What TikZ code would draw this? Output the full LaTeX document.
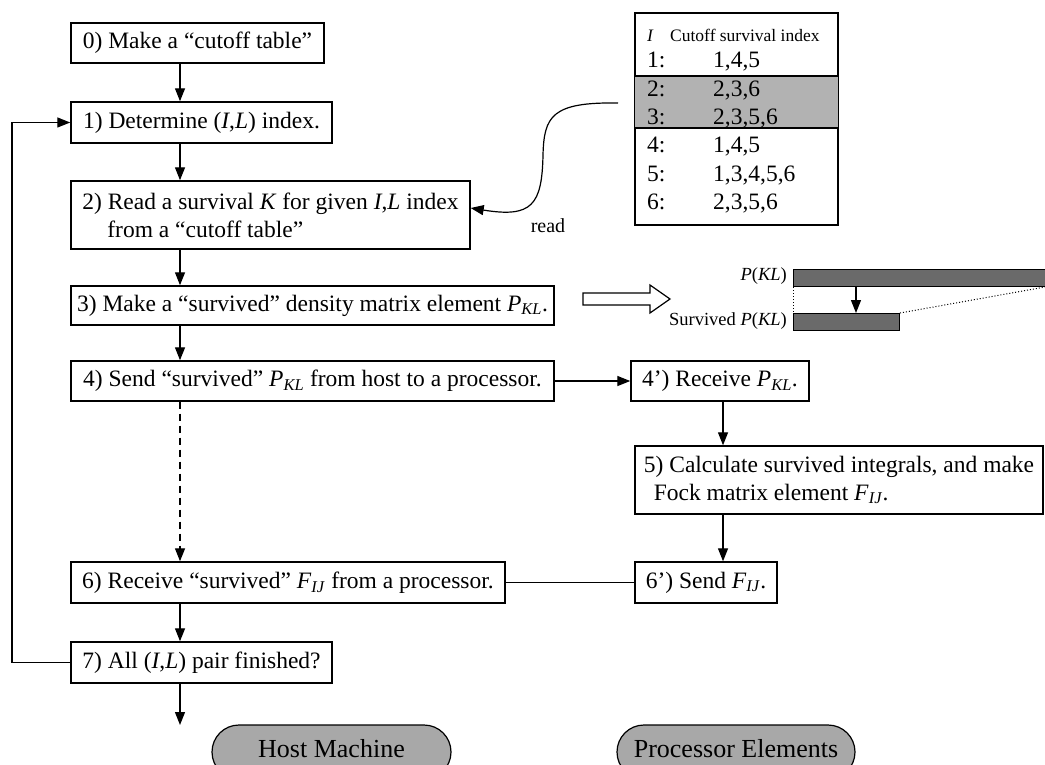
\documentclass[tikz,border=0pt]{standalone}
\usepackage{fontspec}
\setmainfont{Liberation Serif}
\usetikzlibrary{arrows.meta,calc}
\definecolor{bandgray}{HTML}{B2B2B2}
\definecolor{ovalgray}{HTML}{A8A8A8}
\definecolor{bargray}{HTML}{6A6A6A}
\newcommand{\mysub}[2]{\textit{#1}\textsubscript{\textit{#2}}}
\newcommand{\fmain}{\fontsize{23.5}{28}\selectfont}
\begin{document}
\begin{tikzpicture}[x=1pt,y=-1pt,
  stepbox/.style={draw, line width=1.4pt, inner sep=0pt, font=\fmain, align=left},
  ovalbox/.style={draw, line width=1.2pt, fill=ovalgray, rounded corners=27pt, inner sep=0pt, text height=18pt, text depth=7pt, font=\fontsize{26}{30}\selectfont},
  arr/.style={line width=1.3pt, -{Triangle[length=13pt,width=10pt]}},
  ln/.style={line width=1.5pt},
  bar/.style={draw, line width=1pt, fill=bargray, inner sep=0pt},
  tabtext/.style={anchor=base west, inner sep=0pt, font=\fmain},
  dotline/.style={line width=1pt, dotted}
]
\useasboundingbox (0,0) rectangle (1045,765);
\clip (0,0) rectangle (1045,765);

% host side boxes
\node[stepbox, minimum width=253, minimum height=40] (b0) at (197.5,43) {0) Make a “cutoff table”};
\node[stepbox, minimum width=261, minimum height=41] (b1) at (201.5,122.5) {1) Determine (\textit{I},\textit{L}) index.};
\node[stepbox, minimum width=399, minimum height=68] (b2) at (270.5,215) {2) Read a survival \textit{K} for given \textit{I},\textit{L} index\\\hspace*{25pt}from a “cutoff table”};
\node[stepbox, minimum width=483, minimum height=39] (b3) at (312.5,305.5) {3) Make a “survived” density matrix element \mysub{P}{KL}.};
\node[stepbox, minimum width=483, minimum height=40] (b4) at (312.5,381) {4) Send “survived” \mysub{P}{KL} from host to a processor.};
\node[stepbox, minimum width=434, minimum height=41] (b6) at (288,582.5) {6) Receive “survived” \mysub{F}{IJ} from a processor.};
\node[stepbox, minimum width=261, minimum height=41] (b7) at (201.5,662.5) {7) All (\textit{I},\textit{L}) pair finished?};

% processor side boxes
\node[stepbox, minimum width=178, minimum height=40] (b4p) at (720,381) {4’) Receive \mysub{P}{KL}.};
\node[stepbox, minimum width=408, minimum height=68] (b5) at (839,480) {5) Calculate survived integrals, and make\\\hspace*{10pt}Fock matrix element \mysub{F}{IJ}.};
\node[stepbox, minimum width=142, minimum height=41] (b6p) at (706,582.5) {6’) Send \mysub{F}{IJ}.};

% legend ovals
\node[ovalbox, minimum width=239, minimum height=54] (host) at (331.5,752) {Host Machine};
\node[ovalbox, minimum width=238, minimum height=54] (proc) at (736,752) {Processor Elements};

% connectors
\coordinate (col) at (180,0);
\coordinate (pcol) at (723,0);
\coordinate (lx) at (12,0);
\coordinate (fin) at (180,725);
\draw[arr] (col |- b0.south) -- (col |- b1.north);
\draw[arr] (col |- b1.south) -- (col |- b2.north);
\draw[arr] (col |- b2.south) -- (col |- b3.north);
\draw[arr] (col |- b3.south) -- (col |- b4.north);
\draw[arr, dash pattern=on 7pt off 5pt] (col |- b4.south) -- (col |- b6.north);
\draw[arr] (col |- b6.south) -- (col |- b7.north);
\draw[arr] (col |- b7.south) -- (fin);
\draw[arr] (b7.west) -- (lx |- b7.west) -- (lx |- b1.west) -- (b1.west);
\draw[arr] (b4.east) -- (b4p.west);
\draw[arr] (pcol |- b4p.south) -- (pcol |- b5.north);
\draw[arr] (pcol |- b5.south) -- (pcol |- b6p.north);
\draw[ln] (b6p.west) -- (b6.east);

% cutoff table
\node[draw, line width=1.3pt, minimum width=203, minimum height=212, inner sep=0pt] (tab) at (736.5,119) {};
\fill[bandgray] (635,76) rectangle (838,128);
\draw[line width=1.3pt] (635,76) -- (838,76) (635,128) -- (838,128);
\draw[line width=1.3pt] (tab.north west) rectangle (tab.south east);
\node[tabtext, font=\fontsize{17.5}{20}\selectfont] (th1) at (647,42) {\textit{I}};
\node[tabtext, font=\fontsize{17.5}{20}\selectfont] (th2) at (670,42) {Cutoff survival index};
\node[tabtext] (r1a) at (647,68) {1:};  \node[tabtext] (r1b) at (713,68) {1,4,5};
\node[tabtext] (r2a) at (647,97) {2:};  \node[tabtext] (r2b) at (713,97) {2,3,6};
\node[tabtext] (r3a) at (647,125) {3:}; \node[tabtext] (r3b) at (713,125) {2,3,5,6};
\node[tabtext] (r4a) at (647,153) {4:}; \node[tabtext] (r4b) at (713,153) {1,4,5};
\node[tabtext] (r5a) at (647,182) {5:}; \node[tabtext] (r5b) at (713,182) {1,3,4,5,6};
\node[tabtext] (r6a) at (647,210) {6:}; \node[tabtext] (r6b) at (713,210) {2,3,5,6};

% read curve
\coordinate (rs) at (618,103);
\draw[arr, line width=1.2pt] (rs) .. controls (552,102) and (544,116) .. (543,155)
   .. controls (542,205) and (532,218) .. ($(b2.east)+(0,-7)$);
\node[font=\fontsize{20}{24}\selectfont, inner sep=0pt] (readlbl) at (548,226) {read};

% block arrow
\draw[line width=1.2pt, fill=white] (583,293) -- (650,293) -- (650,285) -- (670,299) -- (650,313) -- (650,305) -- (583,305) -- cycle;

% P(KL) bars
\node[bar, minimum width=262, minimum height=17, anchor=north west] (pbar) at (793,269) {};
\node[bar, minimum width=106, minimum height=17, anchor=north west] (sbar) at (793,313) {};
\coordinate (bcol) at (856,0);
\coordinate (pend) at (1045,287);
\draw[arr, line width=1.2pt] (bcol |- pbar.south) -- (bcol |- sbar.north);
\draw[dotline] (pbar.south west) -- (sbar.north west);
\draw[dotline] (sbar.north east) -- (pend);
\node[anchor=east, inner sep=0pt, font=\fontsize{18.5}{22}\selectfont] (plbl) at (787,276) {\textit{P}(\textit{KL})};
\node[anchor=east, inner sep=0pt, font=\fontsize{18.5}{22}\selectfont] (slbl) at (787,321) {Survived \textit{P}(\textit{KL})};
\end{tikzpicture}
\end{document}
